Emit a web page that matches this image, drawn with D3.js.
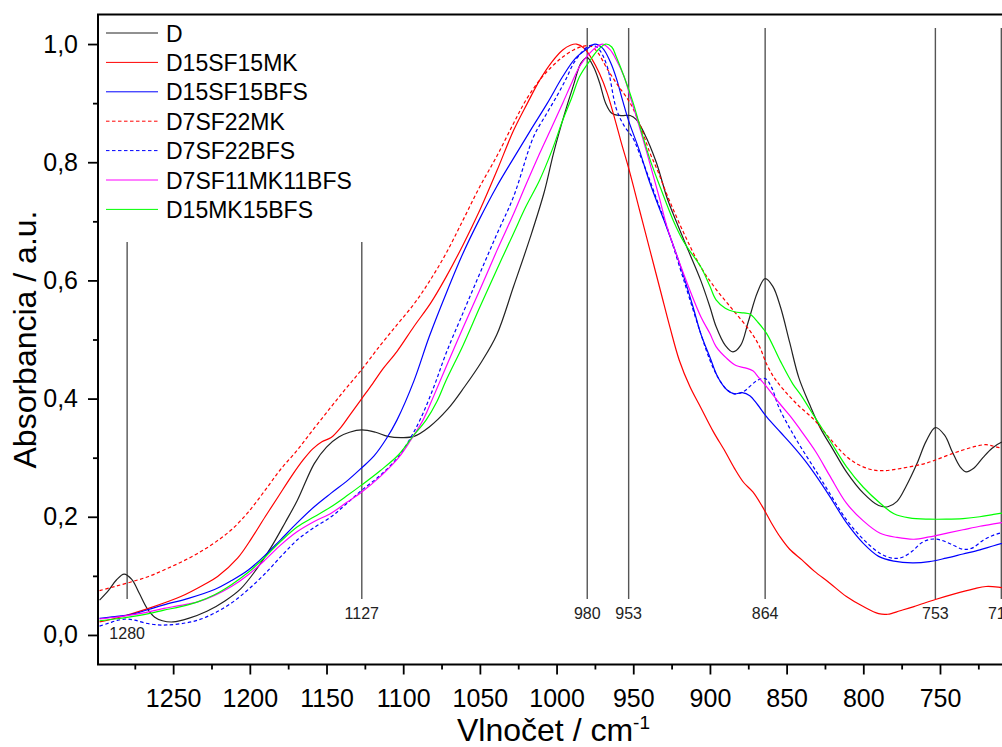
<!DOCTYPE html>
<html>
<head>
<meta charset="utf-8">
<script src="https://cdn.jsdelivr.net/npm/d3@7"></script>
<style>
  body { margin: 0; background: #fff; }
  svg { display: block; font-family: "Liberation Sans", Arial, sans-serif; }
</style>
</head>
<body>
<div id="chart"></div>
<script>
/** Data: [wavenumber cm-1, absorbance] **/
const seriesD = [
  [1298,0.059],[1292,0.076],[1287,0.093],[1282,0.103],[1277,0.094],[1272,0.07],[1267,0.045],[1262,0.03],
  [1257,0.024],[1250,0.022],[1240,0.028],[1228,0.04],[1216,0.058],[1206,0.078],[1196,0.11],[1186,0.149],
  [1177,0.19],[1169,0.228],[1158,0.29],[1150,0.318],[1142,0.335],[1135,0.343],[1127,0.347],[1118,0.343],
  [1110,0.336],[1101,0.334],[1093,0.336],[1083,0.352],[1071,0.382],[1060,0.42],[1049,0.462],[1039,0.508],
  [1028,0.59],[1017,0.674],[1008,0.75],[1002,0.815],[995,0.88],[989,0.93],[984,0.968],[980,0.977],
  [976,0.962],[972,0.935],[968,0.9],[964,0.883],[958,0.879],[952,0.879],[948,0.872],[943,0.85],[935,0.8],
  [928,0.74],[922,0.7],[914,0.65],[906,0.6],[900,0.555],[896,0.522],[890,0.49],[885,0.479],[880,0.49],
  [875,0.53],[869,0.58],[864,0.603],[859,0.59],[854,0.555],[848,0.495],[842,0.435],[835,0.39],[828,0.35],
  [820,0.315],[811,0.276],[800,0.24],[790,0.219],[784,0.217],[778,0.226],[772,0.252],[765,0.29],[759,0.328],
  [753,0.351],[747,0.338],[742,0.31],[737,0.285],[733,0.276],[728,0.282],[722,0.3],[716,0.316],[710,0.326],[705,0.33]
];
const seriesD15SF15MK = [
  [1298,0.022],[1285,0.03],[1266,0.045],[1245,0.065],[1230,0.085],[1221,0.099],[1208,0.13],[1199,0.163],
  [1190,0.2],[1181,0.236],[1173,0.268],[1165,0.297],[1159,0.315],[1153,0.327],[1147,0.334],[1141,0.35],
  [1134,0.375],[1127,0.4],[1120,0.425],[1113,0.451],[1104,0.48],[1093,0.522],[1082,0.562],[1072,0.606],
  [1061,0.66],[1050,0.719],[1039,0.785],[1028,0.854],[1019,0.9],[1011,0.939],[1003,0.97],[996,0.99],
  [991,0.998],[987,1.0],[982,0.993],[977,0.975],[972,0.95],[967,0.917],[962,0.873],[958,0.835],[953,0.79],
  [946,0.72],[939,0.65],[932,0.58],[926,0.52],[920,0.465],[913,0.42],[906,0.385],[898,0.345],[890,0.31],
  [884,0.282],[878,0.258],[872,0.242],[866,0.218],[860,0.19],[854,0.165],[848,0.145],[840,0.127],[832,0.108],
  [822,0.088],[811,0.065],[800,0.048],[790,0.036],[784,0.035],[776,0.041],[767,0.048],[753,0.06],[740,0.07],
  [728,0.078],[720,0.082],[712,0.081],[705,0.078]
];
const seriesD15SF15BFS = [
  [1298,0.028],[1288,0.031],[1277,0.035],[1266,0.043],[1256,0.051],[1240,0.062],[1223,0.077],[1212,0.092],
  [1201,0.11],[1190,0.135],[1180,0.161],[1169,0.19],[1158,0.217],[1147,0.24],[1136,0.262],[1127,0.283],
  [1119,0.303],[1111,0.332],[1104,0.364],[1093,0.43],[1083,0.505],[1072,0.578],[1061,0.646],[1050,0.705],
  [1039,0.759],[1028,0.807],[1017,0.854],[1006,0.9],[996,0.945],[988,0.975],[980,0.992],[975,1.0],[970,0.993],
  [965,0.97],[961,0.942],[957,0.905],[953,0.87],[946,0.82],[939,0.764],[930,0.702],[923,0.653],[917,0.606],
  [911,0.555],[906,0.51],[900,0.47],[895,0.437],[889,0.415],[884,0.408],[879,0.41],[874,0.405],[869,0.39],
  [863,0.369],[854,0.343],[846,0.32],[838,0.295],[831,0.27],[822,0.235],[811,0.19],[800,0.155],[790,0.133],
  [780,0.125],[768,0.122],[757,0.124],[746,0.13],[735,0.137],[724,0.144],[715,0.151],[705,0.158]
];
const seriesD7SF22MK = [
  [1298,0.075],[1288,0.082],[1277,0.09],[1266,0.099],[1256,0.11],[1245,0.123],[1234,0.138],[1223,0.156],
  [1212,0.178],[1201,0.208],[1190,0.245],[1180,0.28],[1169,0.313],[1158,0.35],[1147,0.386],[1138,0.415],
  [1128,0.446],[1115,0.49],[1104,0.525],[1093,0.56],[1083,0.598],[1072,0.646],[1061,0.702],[1050,0.759],
  [1039,0.81],[1028,0.866],[1020,0.905],[1011,0.939],[1003,0.962],[996,0.978],[989,0.99],[983,0.996],
  [978,0.997],[973,0.985],[967,0.958],[960,0.93],[952,0.9],[946,0.866],[939,0.815],[934,0.785],[928,0.745],
  [917,0.68],[906,0.623],[896,0.585],[885,0.55],[874,0.515],[868,0.49],[863,0.458],[858,0.435],[852,0.415],
  [843,0.39],[832,0.364],[822,0.333],[811,0.302],[803,0.288],[795,0.28],[789,0.278],[782,0.279],[775,0.282],
  [767,0.286],[760,0.29],[753,0.296],[744,0.305],[735,0.313],[727,0.319],[720,0.322],[713,0.318],[705,0.314]
];
const seriesD7SF22BFS = [
  [1298,0.015],[1292,0.02],[1286,0.025],[1280,0.027],[1275,0.025],[1268,0.02],[1260,0.017],[1254,0.017],
  [1245,0.019],[1234,0.025],[1223,0.037],[1212,0.054],[1201,0.077],[1190,0.104],[1180,0.132],[1169,0.161],
  [1158,0.182],[1147,0.2],[1137,0.222],[1127,0.245],[1115,0.27],[1103,0.302],[1096,0.33],[1089,0.364],
  [1080,0.42],[1072,0.477],[1061,0.545],[1050,0.612],[1039,0.678],[1028,0.742],[1015,0.843],[1007,0.88],
  [1000,0.911],[994,0.94],[989,0.967],[984,0.985],[980,0.995],[976,0.998],[972,0.99],[967,0.962],[961,0.89],
  [956,0.862],[950,0.84],[946,0.815],[940,0.775],[934,0.732],[928,0.69],[917,0.6],[906,0.51],[900,0.465],
  [895,0.437],[889,0.415],[884,0.408],[878,0.412],[873,0.423],[869,0.431],[864,0.434],[860,0.42],[855,0.385],
  [848,0.35],[841,0.319],[831,0.278],[822,0.24],[811,0.195],[800,0.162],[789,0.138],[781,0.13],[775,0.131],
  [768,0.142],[762,0.156],[756,0.162],[750,0.161],[743,0.154],[735,0.145],[729,0.147],[722,0.16],[716,0.168],
  [710,0.173],[705,0.176]
];
const seriesD7SF11MK11BFS = [
  [1298,0.027],[1288,0.03],[1277,0.034],[1266,0.039],[1256,0.045],[1245,0.05],[1234,0.056],[1223,0.067],
  [1212,0.082],[1201,0.102],[1190,0.127],[1180,0.152],[1169,0.175],[1158,0.192],[1147,0.206],[1137,0.224],
  [1127,0.242],[1115,0.268],[1103,0.3],[1095,0.33],[1087,0.364],[1080,0.405],[1072,0.454],[1061,0.52],
  [1050,0.584],[1039,0.65],[1028,0.713],[1020,0.762],[1011,0.815],[1003,0.86],[996,0.9],[990,0.935],
  [985,0.962],[979,0.983],[974,0.995],[970,1.0],[965,0.99],[961,0.973],[956,0.945],[952,0.911],[946,0.86],
  [941,0.815],[933,0.74],[928,0.691],[917,0.61],[906,0.539],[900,0.51],[896,0.488],[889,0.468],[883,0.456],
  [877,0.452],[872,0.447],[868,0.435],[863,0.42],[854,0.39],[846,0.365],[841,0.347],[831,0.31],[822,0.27],
  [811,0.223],[800,0.193],[789,0.172],[778,0.165],[767,0.162],[757,0.166],[746,0.172],[735,0.178],
  [724,0.184],[715,0.188],[705,0.192]
];
const seriesD15MK15BFS = [
  [1298,0.024],[1288,0.027],[1277,0.031],[1266,0.036],[1256,0.042],[1245,0.048],[1234,0.056],[1223,0.068],
  [1212,0.085],[1201,0.106],[1190,0.132],[1180,0.158],[1169,0.183],[1158,0.2],[1147,0.217],[1137,0.235],
  [1127,0.254],[1115,0.278],[1103,0.305],[1094,0.335],[1085,0.364],[1078,0.395],[1072,0.431],[1061,0.49],
  [1050,0.555],[1039,0.618],[1028,0.68],[1020,0.725],[1011,0.77],[1003,0.82],[996,0.871],[990,0.91],
  [985,0.945],[978,0.973],[973,0.99],[968,1.0],[964,0.995],[961,0.978],[956,0.945],[950,0.9],[945,0.855],
  [939,0.804],[932,0.755],[924,0.702],[917,0.665],[906,0.623],[900,0.59],[896,0.567],[890,0.553],[884,0.547],
  [878,0.545],[874,0.543],[869,0.53],[863,0.51],[854,0.463],[846,0.425],[841,0.407],[831,0.366],[822,0.33],
  [811,0.285],[800,0.25],[789,0.223],[780,0.205],[770,0.198],[757,0.196],[746,0.196],[735,0.197],[724,0.2],
  [715,0.204],[705,0.208]
];

const seriesNames = ['D', 'D15SF15MK', 'D15SF15BFS', 'D7SF22MK', 'D7SF22BFS', 'D7SF11MK11BFS', 'D15MK15BFS'];
const seriesValues = [seriesD, seriesD15SF15MK, seriesD15SF15BFS, seriesD7SF22MK, seriesD7SF22BFS, seriesD7SF11MK11BFS, seriesD15MK15BFS];

// band positions marked with vertical lines
const bandMarks = [1280, 1127, 980, 953, 864, 753, 710];

const xTicks = [1250, 1200, 1150, 1100, 1050, 1000, 950, 900, 850, 800, 750];
const xMinorTicks = [1275, 1225, 1175, 1125, 1075, 1025, 975, 925, 875, 825, 775, 725];
const yTicks = [0, 0.2, 0.4, 0.6, 0.8, 1.0];
const yMinorTicks = [0.1, 0.3, 0.5, 0.7, 0.9];

/** Styles **/
const colors = ['#222222', '#ff0000', '#0000ff', '#ff0000', '#0000ff', '#ff00ff', '#00ff00'];
const dashes = [null, null, null, '3.5,2.5', '3.5,2.5', null, null];

/** Chart setup **/
const width = 1002, height = 747;
const plotLeft = 98, plotRight = 1009, plotTop = 14.5, plotBottom = 664.5;

const svg = d3.select('#chart').append('svg')
  .attr('width', width).attr('height', height);

const x = d3.scaleLinear().domain([1299, 705]).range([plotLeft, plotRight]);
const y = d3.scaleLinear().domain([-0.05, 1.05]).range([plotBottom, plotTop]);

svg.append('clipPath').attr('id', 'plot-clip')
  .append('rect')
  .attr('x', plotLeft).attr('y', plotTop)
  .attr('width', plotRight - plotLeft).attr('height', plotBottom - plotTop);

const plot = svg.append('g').attr('clip-path', 'url(#plot-clip)');

// vertical band markers (the two left ones are shorter, 1280 label sits lower)
const markTop = (d) => (d === 1280 || d === 1127 ? 0.665 : 1.027);
plot.selectAll('line.mark')
  .data(bandMarks)
  .join('line')
  .attr('class', 'mark')
  .attr('x1', (d) => x(d)).attr('x2', (d) => x(d))
  .attr('y1', (d) => y(markTop(d))).attr('y2', y(0.061))
  .attr('stroke', '#555').attr('stroke-width', 1.4);

svg.selectAll('text.mark')
  .data(bandMarks)
  .join('text')
  .attr('class', 'mark')
  .attr('x', (d) => x(d)).attr('y', (d) => (d === 1280 ? 639 : 619))
  .attr('text-anchor', 'middle')
  .attr('font-size', 16)
  .attr('fill', '#222')
  .text((d) => d);

// spectra
const line = d3.line()
  .x((d) => x(d[0]))
  .y((d) => y(d[1]))
  .curve(d3.curveCatmullRom.alpha(0.5));

plot.selectAll('path.spectrum')
  .data(seriesValues)
  .join('path')
  .attr('class', 'spectrum')
  .attr('d', line)
  .attr('fill', 'none')
  .attr('stroke', (d, i) => colors[i])
  .attr('stroke-width', 1.2)
  .attr('stroke-dasharray', (d, i) => dashes[i]);

/** Axes **/
const commaFmt = (d) => d3.format('.1f')(d).replace('.', ',');

const xAxis = svg.append('g')
  .attr('transform', `translate(0, ${plotBottom})`)
  .call(d3.axisBottom(x).tickValues(xTicks).tickSize(10).tickPadding(15).tickFormat(d3.format('d')));
xAxis.select('.domain').remove();
xAxis.selectAll('text').attr('font-size', 25).attr('fill', '#000');

const xMinor = svg.append('g')
  .attr('transform', `translate(0, ${plotBottom})`)
  .call(d3.axisBottom(x).tickValues(xMinorTicks).tickSize(5).tickFormat(''));
xMinor.select('.domain').remove();

const yAxis = svg.append('g')
  .attr('transform', `translate(${plotLeft}, 0)`)
  .call(d3.axisLeft(y).tickValues(yTicks).tickSize(10).tickPadding(10).tickFormat(commaFmt));
yAxis.select('.domain').remove();
yAxis.selectAll('text').attr('font-size', 25).attr('fill', '#000');

const yMinor = svg.append('g')
  .attr('transform', `translate(${plotLeft}, 0)`)
  .call(d3.axisLeft(y).tickValues(yMinorTicks).tickSize(5).tickFormat(''));
yMinor.select('.domain').remove();

svg.selectAll('.tick line').attr('stroke', '#000').attr('stroke-width', 1.8);
svg.selectAll('g[font-family]').attr('font-family', null);

// frame
svg.append('rect')
  .attr('x', plotLeft).attr('y', plotTop)
  .attr('width', plotRight - plotLeft).attr('height', plotBottom - plotTop)
  .attr('fill', 'none').attr('stroke', '#000').attr('stroke-width', 2);

// axis titles
const xTitle = svg.append('text')
  .attr('x', (plotLeft + plotRight) / 2).attr('y', 741)
  .attr('text-anchor', 'middle')
  .attr('font-size', 32)
  .text('Vlnočet / cm');
xTitle.append('tspan').attr('font-size', 19).attr('dy', -12).text('-1');

svg.append('text')
  .attr('transform', `translate(36, ${(plotTop + plotBottom) / 2}) rotate(-90)`)
  .attr('text-anchor', 'middle')
  .attr('font-size', 32)
  .text('Absorbancia / a.u.');

/** Legend **/
const legend = svg.append('g').attr('transform', 'translate(106, 33)');
const rows = legend.selectAll('g')
  .data(seriesNames)
  .join('g')
  .attr('transform', (d, i) => `translate(0, ${i * 29.4})`);
rows.append('line')
  .attr('x1', 0).attr('x2', 52).attr('y1', 0).attr('y2', 0)
  .attr('stroke', (d, i) => colors[i])
  .attr('stroke-width', 1)
  .attr('stroke-dasharray', (d, i) => dashes[i]);
rows.append('text')
  .attr('x', 60).attr('y', 8.5)
  .attr('font-size', 23)
  .text((d) => d);
</script>
</body>
</html>
